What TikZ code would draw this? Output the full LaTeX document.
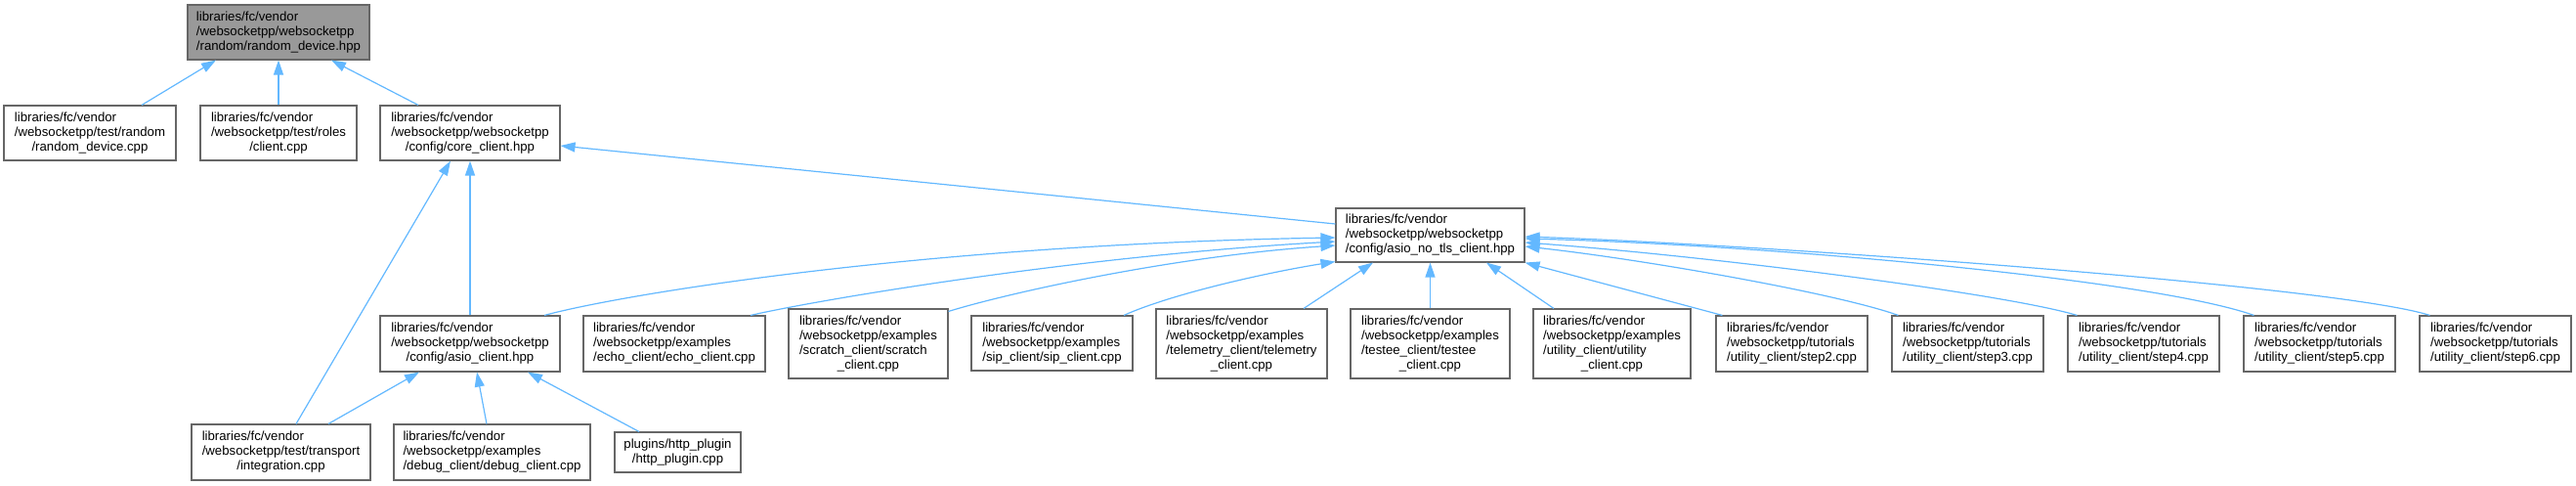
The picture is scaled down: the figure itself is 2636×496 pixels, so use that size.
\documentclass[tikz,border=0pt]{standalone}
\usepackage{fontspec}
\setmainfont{Liberation Sans}
\usetikzlibrary{arrows.meta,calc}
\definecolor{edgec}{HTML}{63B8FF}
\definecolor{bord}{HTML}{666666}
\definecolor{rootf}{HTML}{999999}
\newcommand\lbl[2]{\begin{tabular}{@{}l@{}}#1\\\multicolumn{1}{@{}c@{}}{#2}\end{tabular}}
\tikzset{
  box/.style={draw=bord, fill=white, line width=1.1pt, inner sep=0pt,
    font=\fontsize{13.2}{15}\selectfont},
  rootbox/.style={box, fill=rootf},
  edge/.style={draw=edgec, line width=1.2pt, -{Triangle[length=15pt,width=10pt]}}
}
\begin{document}
\begin{tikzpicture}[x=1pt,y=-1pt]
\useasboundingbox (0,0) rectangle (2636,496);
% row 0
\node[rootbox, minimum width=186pt, minimum height=56pt] (root) at (285,33)
  {\lbl{libraries/fc/vendor\\/websocketpp/websocketpp}{/random/random\_device.hpp}};
% row 1
\node[box, minimum width=176pt, minimum height=56pt] (rdcpp) at (92,136)
  {\lbl{libraries/fc/vendor\\/websocketpp/test/random}{/random\_device.cpp}};
\node[box, minimum width=160pt, minimum height=56pt] (clientcpp) at (285,136)
  {\lbl{libraries/fc/vendor\\/websocketpp/test/roles}{/client.cpp}};
\node[box, minimum width=184pt, minimum height=56pt] (core) at (481,136)
  {\lbl{libraries/fc/vendor\\/websocketpp/websocketpp}{/config/core\_client.hpp}};
% row 2
\node[box, minimum width=193pt, minimum height=55pt] (ant) at (1463.5,240.5)
  {\lbl{libraries/fc/vendor\\/websocketpp/websocketpp}{/config/asio\_no\_tls\_client.hpp}};
% row 3
\node[box, minimum width=184pt, minimum height=57pt] (asioc) at (481,351.5)
  {\lbl{libraries/fc/vendor\\/websocketpp/websocketpp}{/config/asio\_client.hpp}};
\node[box, minimum width=186pt, minimum height=57pt] (echo) at (690,351.5)
  {\lbl{libraries/fc/vendor\\/websocketpp/examples}{/echo\_client/echo\_client.cpp}};
\node[box, minimum width=163pt, minimum height=71pt] (scratch) at (888.5,351.5)
  {\lbl{libraries/fc/vendor\\/websocketpp/examples\\/scratch\_client/scratch}{\_client.cpp}};
\node[box, minimum width=165pt, minimum height=56pt] (sip) at (1076.5,351)
  {\lbl{libraries/fc/vendor\\/websocketpp/examples}{/sip\_client/sip\_client.cpp}};
\node[box, minimum width=175pt, minimum height=71pt] (tele) at (1270.5,351.5)
  {\lbl{libraries/fc/vendor\\/websocketpp/examples\\/telemetry\_client/telemetry}{\_client.cpp}};
\node[box, minimum width=163pt, minimum height=71pt] (testee) at (1463.5,351.5)
  {\lbl{libraries/fc/vendor\\/websocketpp/examples\\/testee\_client/testee}{\_client.cpp}};
\node[box, minimum width=161pt, minimum height=71pt] (util) at (1649.5,351.5)
  {\lbl{libraries/fc/vendor\\/websocketpp/examples\\/utility\_client/utility}{\_client.cpp}};
\node[box, minimum width=155pt, minimum height=57pt] (step2) at (1833.5,351.5)
  {\lbl{libraries/fc/vendor\\/websocketpp/tutorials}{/utility\_client/step2.cpp}};
\node[box, minimum width=155pt, minimum height=57pt] (step3) at (2013.5,351.5)
  {\lbl{libraries/fc/vendor\\/websocketpp/tutorials}{/utility\_client/step3.cpp}};
\node[box, minimum width=155pt, minimum height=57pt] (step4) at (2193.5,351.5)
  {\lbl{libraries/fc/vendor\\/websocketpp/tutorials}{/utility\_client/step4.cpp}};
\node[box, minimum width=155pt, minimum height=57pt] (step5) at (2373.5,351.5)
  {\lbl{libraries/fc/vendor\\/websocketpp/tutorials}{/utility\_client/step5.cpp}};
\node[box, minimum width=155pt, minimum height=57pt] (step6) at (2553.5,351.5)
  {\lbl{libraries/fc/vendor\\/websocketpp/tutorials}{/utility\_client/step6.cpp}};
% row 4
\node[box, minimum width=183pt, minimum height=57pt] (integ) at (287.5,462.5)
  {\lbl{libraries/fc/vendor\\/websocketpp/test/transport}{/integration.cpp}};
\node[box, minimum width=201pt, minimum height=57pt] (debug) at (503.5,462.5)
  {\lbl{libraries/fc/vendor\\/websocketpp/examples}{/debug\_client/debug\_client.cpp}};
\node[box, minimum width=129pt, minimum height=41pt] (http) at (693.5,462.5)
  {\lbl{plugins/http\_plugin}{/http\_plugin.cpp}};
% edges
\draw[edge] ($(rdcpp.north)+(53,0)$) -- ($(root.south)+(-64,0)$);
\draw[edge] (clientcpp.north) -- (root.south);
\draw[edge] ($(core.north)+(-53,0)$) -- ($(root.south)+(54,0)$);
\draw[edge] ($(ant.west)+(0,-11.5)$) -- ($(core.east)+(0,13)$);
\draw[edge] (asioc.north) -- (core.south);
\draw[edge] ($(integ.north)+(15.5,0)$) -- ($(core.south)+(-20,0)$);
\draw[edge] ($(integ.north)+(48.5,0)$) -- ($(asioc.south)+(-52,0)$);
\draw[edge] ($(debug.north)+(-5.5,0)$) -- ($(asioc.south)+(7,0)$);
\draw[edge] ($(http.north)+(-39.5,0)$) -- ($(asioc.south)+(59,0)$);
\draw[edge] ($(asioc.north)+(76,0)$) .. controls (640,300) and (950,250) .. ($(ant.west)+(0,2.5)$);
\draw[edge] ($(echo.north)+(78,0)$) .. controls (835,307) and (1100,262) .. ($(ant.west)+(0,6.5)$);
\draw[edge] ($(scratch.north east)+(0,3)$) .. controls (1030,300) and (1200,262) .. ($(ant.west)+(0,10.5)$);
\draw[edge] ($(sip.north)+(73.5,0)$) .. controls (1200,300) and (1300,278) .. ($(ant.south west)+(0,-1)$);
\draw[edge] ($(tele.north)+(63.5,0)$) -- ($(ant.south)+(-58.5,0)$);
\draw[edge] (testee.north) -- (ant.south);
\draw[edge] ($(util.north)+(-59.5,0)$) -- ($(ant.south)+(57.5,0)$);
\draw[edge] ($(step2.north west)+(7,0)$) -- (ant.south east);
\draw[edge] ($(step3.north west)+(7,0)$) .. controls (1880,300) and (1680,265) .. ($(ant.east)+(0,11.5)$);
\draw[edge] ($(step4.north west)+(10,0)$) .. controls (2050,300) and (1750,262) .. ($(ant.east)+(0,7.5)$);
\draw[edge] ($(step5.north west)+(11,0)$) .. controls (2200,285) and (1800,250) .. ($(ant.east)+(0,3.5)$);
\draw[edge] ($(step6.north west)+(11,0)$) .. controls (2390,292) and (1800,250) .. ($(ant.east)+(0,1.5)$);
\end{tikzpicture}
\end{document}
